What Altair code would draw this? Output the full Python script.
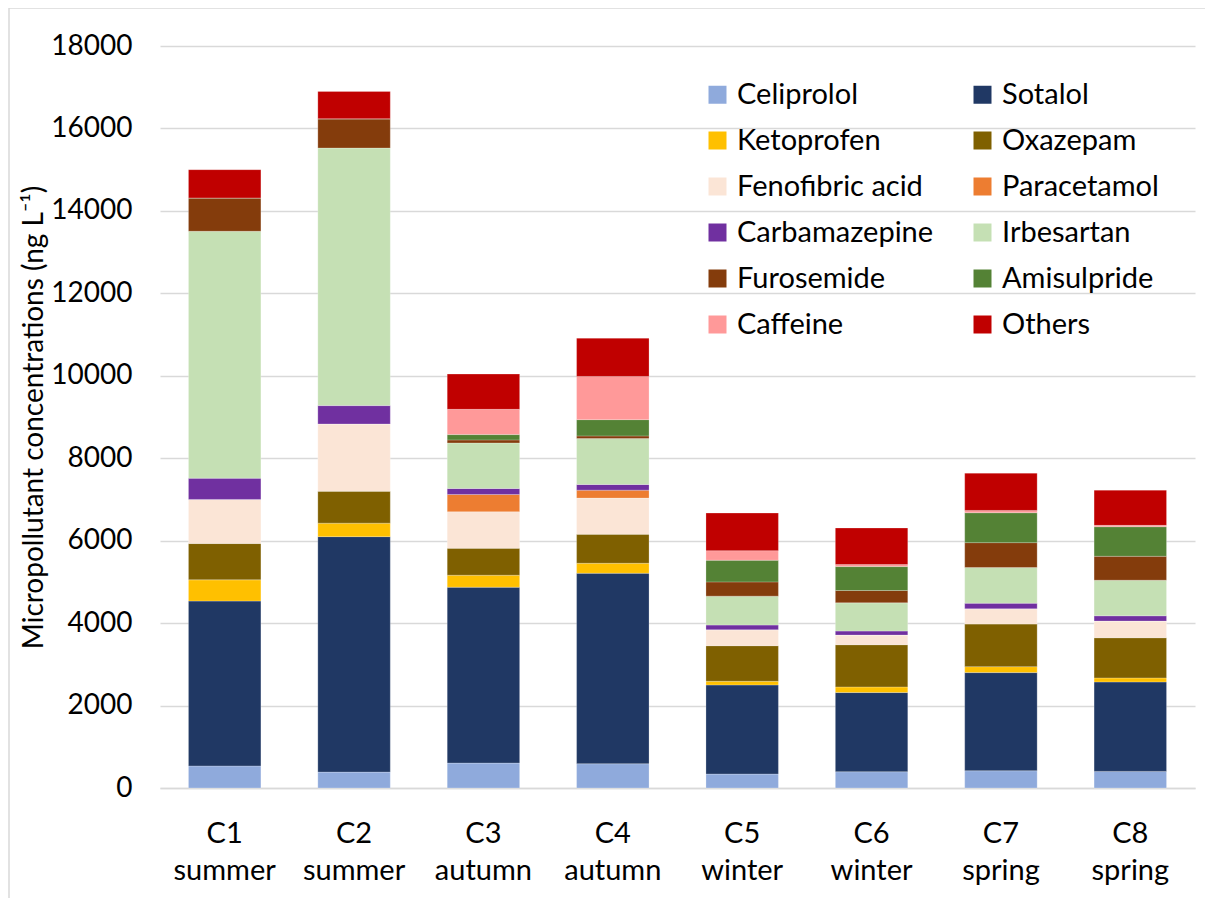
import altair as alt
import pandas as pd

sites = ["C1 summer", "C2 summer", "C3 autumn", "C4 autumn",
         "C5 winter", "C6 winter", "C7 spring", "C8 spring"]

compounds = ["Celiprolol", "Sotalol", "Ketoprofen", "Oxazepam", "Fenofibric acid",
             "Paracetamol", "Carbamazepine", "Irbesartan", "Furosemide",
             "Amisulpride", "Caffeine", "Others"]

colors = ["#8FAADC", "#203864", "#FFC000", "#7F6000", "#FBE5D6", "#ED7D31",
          "#7030A0", "#C5E0B4", "#843C0C", "#548235", "#FF9999", "#C00000"]

celiprolol = [535, 386, 605, 589, 339, 395, 419, 403]
sotalol = [4000, 5712, 4266, 4621, 2161, 1920, 2380, 2170]
ketoprofen = [515, 327, 291, 242, 89, 137, 145, 97]
oxazepam = [880, 772, 653, 702, 863, 1024, 1032, 975]
fenofibric_acid = [1070, 1634, 887, 879, 387, 234, 371, 404]
paracetamol = [0, 0, 419, 193, 0, 0, 0, 0]
carbamazepine = [515, 445, 146, 137, 113, 97, 137, 129]
irbesartan = [5990, 6249, 1104, 1113, 702, 685, 863, 863]
furosemide = [810, 710, 73, 65, 346, 299, 605, 580]
amisulpride = [0, 0, 129, 395, 525, 580, 726, 718]
caffeine = [0, 0, 613, 1048, 233, 49, 56, 32]
others = [685, 663, 855, 928, 912, 887, 904, 855]

series = [celiprolol, sotalol, ketoprofen, oxazepam, fenofibric_acid, paracetamol,
          carbamazepine, irbesartan, furosemide, amisulpride, caffeine, others]

rows = []
for i, (name, vals) in enumerate(zip(compounds, series)):
    for s, v in zip(sites, vals):
        rows.append({"site": s, "compound": name, "value": v, "order": i})
df = pd.DataFrame(rows)

FONT = "Lato"

bars = alt.Chart(df).mark_bar(stroke="white", strokeWidth=0.4, strokeOpacity=0.6).encode(
    x=alt.X("site:N", sort=sites,
            scale=alt.Scale(paddingInner=0.44, paddingOuter=0.22),
            axis=alt.Axis(title=None, labelAngle=0, ticks=False, labelPadding=31,
                          labelFontSize=29, labelFont=FONT, labelColor="#000000",
                          labelLineHeight=37, domainColor="#d9d9d9", domainWidth=1.5,
                          labelExpr="split(datum.label, ' ')")),
    y=alt.Y("value:Q", stack="zero",
            scale=alt.Scale(domain=[0, 18000], nice=False),
            axis=alt.Axis(title="Micropollutant concentrations (ng L⁻¹)",
                          values=list(range(0, 18001, 2000)), format="d",
                          ticks=False, domain=False,
                          labelPadding=28, labelFontSize=28, labelFont=FONT,
                          labelColor="#000000", gridColor="#d9d9d9", gridWidth=1.5,
                          titleFontSize=28, titleFont=FONT, titleFontWeight="normal",
                          titleColor="#000000", titleX=-112, titleY=371)),
    color=alt.Color("compound:N", sort=compounds,
                    scale=alt.Scale(domain=compounds, range=colors),
                    legend=alt.Legend(title=None, orient="none", legendX=543, legendY=34,
                                      direction="horizontal", columns=2,
                                      symbolType="square", symbolSize=324,
                                      symbolStrokeWidth=0, labelFontSize=29, labelFont=FONT,
                                      labelColor="#000000", labelOffset=5,
                                      columnPadding=34, rowPadding=16, padding=0,
                                      labelLimit=400)),
    order=alt.Order("order:Q", sort="ascending"),
)

frame = alt.Chart(pd.DataFrame({"a": [0]})).mark_rect(
    fill=None, stroke="#d9d9d9", strokeWidth=1.5
).encode(x=alt.value(-151), x2=alt.value(1047), y=alt.value(-38), y2=alt.value(853))

chart = alt.layer(frame, bars).properties(
    width=1035, height=742,
    autosize=alt.AutoSizeParams(type="none"),
    padding={"left": 152, "top": 38, "right": 10, "bottom": 110},
).configure_view(stroke=None)

chart.save("out.html", embed_options={"renderer": "svg", "actions": False})
